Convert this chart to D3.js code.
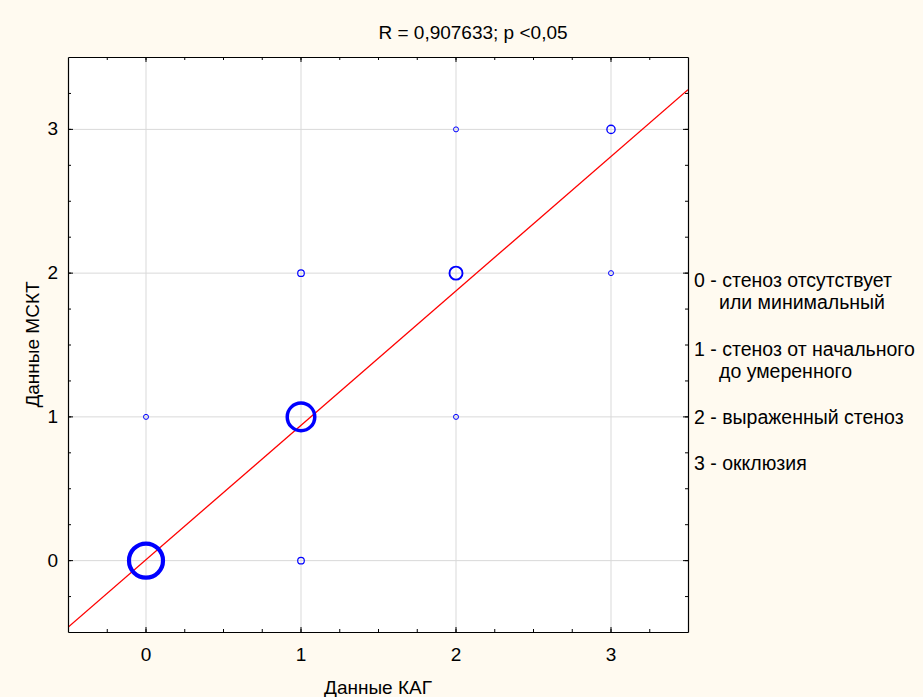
<!DOCTYPE html>
<html lang="ru">
<head>
<meta charset="UTF-8">
<title>Данные КАГ / Данные МСКТ</title>
<script src="https://d3js.org/d3.v7.min.js"></script>
<style>
    body { margin: 0; background: #fffaf0; font-family: "Liberation Sans", Arial, sans-serif; }
    svg text { fill: #000; }
    .grid line { stroke: #d9d9d9; stroke-width: 1; }
    .legend text { font-size: 19.5px; }
</style>
</head>
<body>
<svg id="chart"></svg>
<script>
// Данные: оценка КАГ (x) против МСКТ (y), число случаев в каждой ячейке
const kag   = [0, 1, 1, 0, 1, 2, 2, 3, 2, 3];
const msct  = [0, 0, 1, 1, 2, 1, 2, 2, 3, 3];
const count = [19, 2, 15, 1, 2, 1, 6, 1, 1, 3];
const xTicks = [0, 1, 2, 3];
const yTicks = [0, 1, 2, 3];
const regSlope = 0.935;
const regIntercept = 0.0;
const title = "R = 0,907633; p <0,05";
const xTitle = "Данные КАГ";
const yTitle = "Данные МСКТ";
const legendLines = [
    "0 - стеноз отсутствует", "или минимальный",
    "1 - стеноз от начального", "до умеренного",
    "2 - выраженный стеноз",
    "3 - окклюзия"
];
const legendIndent = [false, true, false, true, false, false];

const W = 923, H = 697;
const m = { left: 68, right: 235, top: 57, bottom: 65 };

const svg = d3.select("#chart").attr("width", W).attr("height", H);
svg.append("rect").attr("width", W).attr("height", H).attr("fill", "#fffaf0");

const x = d3.scaleLinear().domain([-0.5, 3.5]).range([m.left, W - m.right]);
const y = d3.scaleLinear().domain([-0.5, 3.5]).range([H - m.bottom, m.top]);

// размер пузырька и толщина обводки от числа случаев
const r = d3.scaleLinear().domain([1, 19]).range([2.5, 17]);
const sw = d3.scaleLinear().domain([1, 19]).range([1, 4.2]).clamp(true);

// фон области построения
svg.append("rect")
    .attr("x", x.range()[0]).attr("y", y.range()[1])
    .attr("width", x.range()[1] - x.range()[0])
    .attr("height", y.range()[0] - y.range()[1])
    .attr("fill", "#fff");

// сетка
const grid = svg.append("g").attr("class", "grid");
grid.selectAll(".gx").data(xTicks).enter().append("line")
    .attr("x1", d => x(d) + 0.5).attr("x2", d => x(d) + 0.5)
    .attr("y1", y.range()[1]).attr("y2", y.range()[0]);
grid.selectAll(".gy").data(yTicks).enter().append("line")
    .attr("y1", d => y(d) + 0.5).attr("y2", d => y(d) + 0.5)
    .attr("x1", x.range()[0]).attr("x2", x.range()[1]);

// линия регрессии
svg.append("defs").append("clipPath").attr("id", "clip")
    .append("rect")
    .attr("x", x.range()[0]).attr("y", y.range()[1])
    .attr("width", x.range()[1] - x.range()[0])
    .attr("height", y.range()[0] - y.range()[1]);

const xr = x.domain();
svg.append("line")
    .attr("clip-path", "url(#clip)")
    .attr("x1", x(xr[0])).attr("y1", y(regIntercept + regSlope * xr[0]))
    .attr("x2", x(xr[1])).attr("y2", y(regIntercept + regSlope * xr[1]))
    .attr("stroke", "#ff0000").attr("stroke-width", 1.3);

// пузырьки
svg.append("g").selectAll("circle")
    .data(kag.map((d, i) => ({ x: d, y: msct[i], n: count[i] })))
    .enter().append("circle")
    .attr("cx", d => x(d.x) + 0.5)
    .attr("cy", d => y(d.y) + 0.5)
    .attr("r", d => r(d.n))
    .attr("fill", "none")
    .attr("stroke", "#0000ff")
    .attr("stroke-width", d => sw(d.n));

// оси с внутренними засечками (малые через 0,25)
const minor = d3.range(-0.25, 3.5, 0.25);
const fmt = d3.format("d");

const axBottom = svg.append("g").attr("transform", `translate(0,${y.range()[0]})`);
axBottom.call(d3.axisBottom(x).tickValues(minor).tickSizeInner(-3).tickSizeOuter(0).tickFormat(""));
axBottom.append("g").call(d3.axisBottom(x).tickValues(xTicks).tickFormat(fmt)
        .tickSizeInner(-5).tickSizeOuter(0).tickPadding(16))
    .call(g => g.select(".domain").remove());

const axTop = svg.append("g").attr("transform", `translate(0,${y.range()[1]})`);
axTop.call(d3.axisTop(x).tickValues(minor).tickSizeInner(-3).tickSizeOuter(0).tickFormat(""));
axTop.append("g").call(d3.axisTop(x).tickValues(xTicks).tickSizeInner(-5).tickSizeOuter(0).tickFormat(""))
    .call(g => g.select(".domain").remove());

const axLeft = svg.append("g").attr("transform", `translate(${x.range()[0]},0)`);
axLeft.call(d3.axisLeft(y).tickValues(minor).tickSizeInner(-3).tickSizeOuter(0).tickFormat(""));
axLeft.append("g").call(d3.axisLeft(y).tickValues(yTicks).tickFormat(fmt)
        .tickSizeInner(-5).tickSizeOuter(0).tickPadding(10))
    .call(g => g.select(".domain").remove());

const axRight = svg.append("g").attr("transform", `translate(${x.range()[1]},0)`);
axRight.call(d3.axisRight(y).tickValues(minor).tickSizeInner(-3).tickSizeOuter(0).tickFormat(""));
axRight.append("g").call(d3.axisRight(y).tickValues(yTicks).tickSizeInner(-5).tickSizeOuter(0).tickFormat(""))
    .call(g => g.select(".domain").remove());

svg.selectAll(".domain").attr("stroke", "#000").attr("stroke-width", 1.2);
svg.selectAll(".tick line").attr("stroke", "#000");
svg.selectAll(".tick text").attr("font-size", 19).attr("font-family", "Liberation Sans, Arial, sans-serif");

// подписи
const cx = (x.range()[0] + x.range()[1]) / 2;
svg.append("text").attr("x", 473).attr("y", 39).attr("text-anchor", "middle")
    .attr("font-size", 19).text(title);
svg.append("text").attr("x", cx).attr("y", 694).attr("text-anchor", "middle")
    .attr("font-size", 19).text(xTitle);
svg.append("text")
    .attr("transform", `translate(39,${(y.range()[0] + y.range()[1]) / 2}) rotate(-90)`)
    .attr("text-anchor", "middle").attr("font-size", 19).text(yTitle);

// легенда справа
const legendY = [280, 302, 349, 371, 417, 463];
svg.append("g").attr("class", "legend")
    .selectAll("text").data(legendLines).enter().append("text")
    .attr("x", (d, i) => legendIndent[i] ? 719 : 694)
    .attr("y", (d, i) => legendY[i])
    .attr("dy", "0.35em")
    .text(d => d);
</script>
</body>
</html>
